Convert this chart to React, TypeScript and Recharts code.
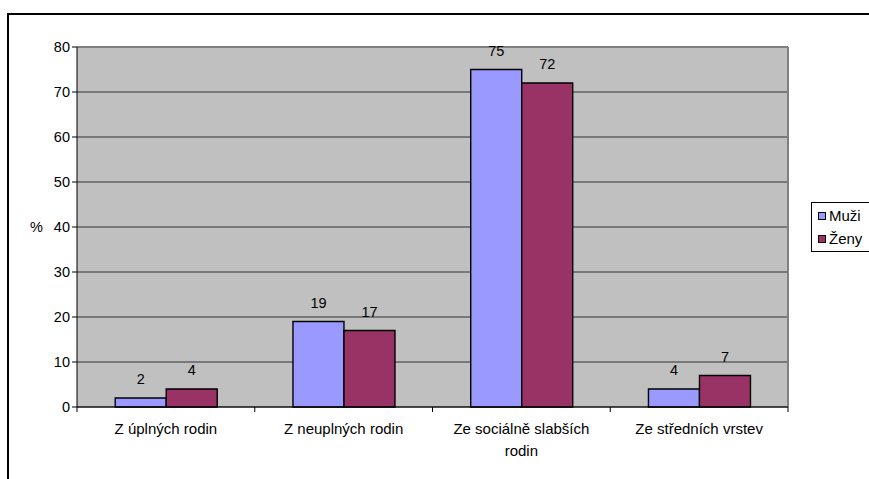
import React from 'react';
import { BarChart, Bar, XAxis, YAxis, CartesianGrid, LabelList, ReferenceLine } from 'recharts';

const categories = ['Z úplných rodin', 'Z neuplných rodin', 'Ze sociálně slabších rodin', 'Ze středních vrstev'];
const muzi = [2, 19, 75, 4];
const zeny = [4, 17, 72, 7];
const yTicks = [0, 10, 20, 30, 40, 50, 60, 70, 80];
const seriesNames = ['Muži', 'Ženy'];
const seriesColors = ['#9999FF', '#993366'];

const data = categories.map((c, i) => ({ name: c, muzi: muzi[i], zeny: zeny[i] }));

const W = 869;
const H = 479;
const X_H = 72;
const M = { top: 47, right: 81, left: 0, bottom: 0 };
const Y_W = 77;
const PLOT_W = W - M.left - M.right - Y_W;
const BAND = PLOT_W / categories.length;
const FONT = '"Liberation Sans", Arial, sans-serif';

const XTick = (props: any) => {
  const { x, y, payload, index } = props;
  const words = String(payload.value).split(' ');
  const lines: string[] = [];
  let cur = '';
  words.forEach((w) => {
    const t = cur ? cur + ' ' + w : w;
    if (t.length > 20 && cur) {
      lines.push(cur);
      cur = w;
    } else cur = t;
  });
  if (cur) lines.push(cur);
  return (
    <g>
      <line x1={x - BAND / 2} x2={x - BAND / 2} y1={y - 8} y2={y - 3} stroke="#000" />
      {index === categories.length - 1 && (
        <line x1={x + BAND / 2} x2={x + BAND / 2} y1={y - 8} y2={y - 3} stroke="#000" />
      )}
      <text x={x} y={y + 19} textAnchor="middle" fontSize={15} fontFamily={FONT} fill="#000">
        {lines.map((l, i) => (
          <tspan key={i} x={x} dy={i === 0 ? 0 : 22}>{l}</tspan>
        ))}
      </text>
    </g>
  );
};

const LegendBox = () => (
  <div style={{ position: 'absolute', left: 811, top: 202, border: '1px solid #000', background: '#fff', width: 70, height: 50, fontFamily: FONT, fontSize: 15, boxSizing: 'border-box', paddingTop: 1 }}>
    {seriesNames.map((n, i) => (
      <div key={n} style={{ display: 'flex', alignItems: 'center', height: 23, paddingLeft: 6 }}>
        <span style={{ display: 'inline-block', width: 6, height: 6, background: seriesColors[i], border: '1px solid #000', marginRight: 3 }} />
        <span>{n}</span>
      </div>
    ))}
  </div>
);

export default function App() {
  return (
    <div style={{ position: 'absolute', left: 0, top: 0, width: W, height: H, background: '#fff', overflow: 'hidden' }}>
      <div style={{ position: 'absolute', left: 7, top: 13, width: W + 20, height: H + 20, borderLeft: '2px solid #000', borderTop: '2px solid #000' }} />
      <BarChart width={W} height={H} data={data} margin={M} barCategoryGap="21.5%" barGap={0} style={{ position: 'absolute', left: 0, top: 0 }}>
        <CartesianGrid vertical={false} fill="#C0C0C0" stroke="#333" strokeOpacity={1} />
        <XAxis dataKey="name" interval={0} tickLine={false} axisLine={{ stroke: '#000' }} tick={<XTick />} height={X_H} />
        <YAxis
          width={Y_W}
          domain={[0, 80]}
          ticks={yTicks}
          interval={0}
          axisLine={{ stroke: '#000' }}
          tickLine={{ stroke: '#000' }}
          tickSize={5}
          tick={{ fill: '#000', fontSize: 14.5, fontFamily: FONT }}
          label={{ value: '%', position: 'insideLeft', offset: 30, fill: '#000', fontSize: 14.5, fontFamily: FONT }}
        />
        <ReferenceLine y={80} stroke="#808080" strokeWidth={2} />
        <ReferenceLine x={categories[categories.length - 1]} position="end" stroke="#808080" strokeWidth={2} />
        <Bar dataKey="muzi" name={seriesNames[0]} fill={seriesColors[0]} stroke="#000" strokeWidth={1.4} isAnimationActive={false}>
          <LabelList dataKey="muzi" position="top" offset={14} fill="#000" fontSize={14.5} fontFamily={FONT} />
        </Bar>
        <Bar dataKey="zeny" name={seriesNames[1]} fill={seriesColors[1]} stroke="#000" strokeWidth={1.4} isAnimationActive={false}>
          <LabelList dataKey="zeny" position="top" offset={14} fill="#000" fontSize={14.5} fontFamily={FONT} />
        </Bar>
      </BarChart>
      <LegendBox />
    </div>
  );
}
